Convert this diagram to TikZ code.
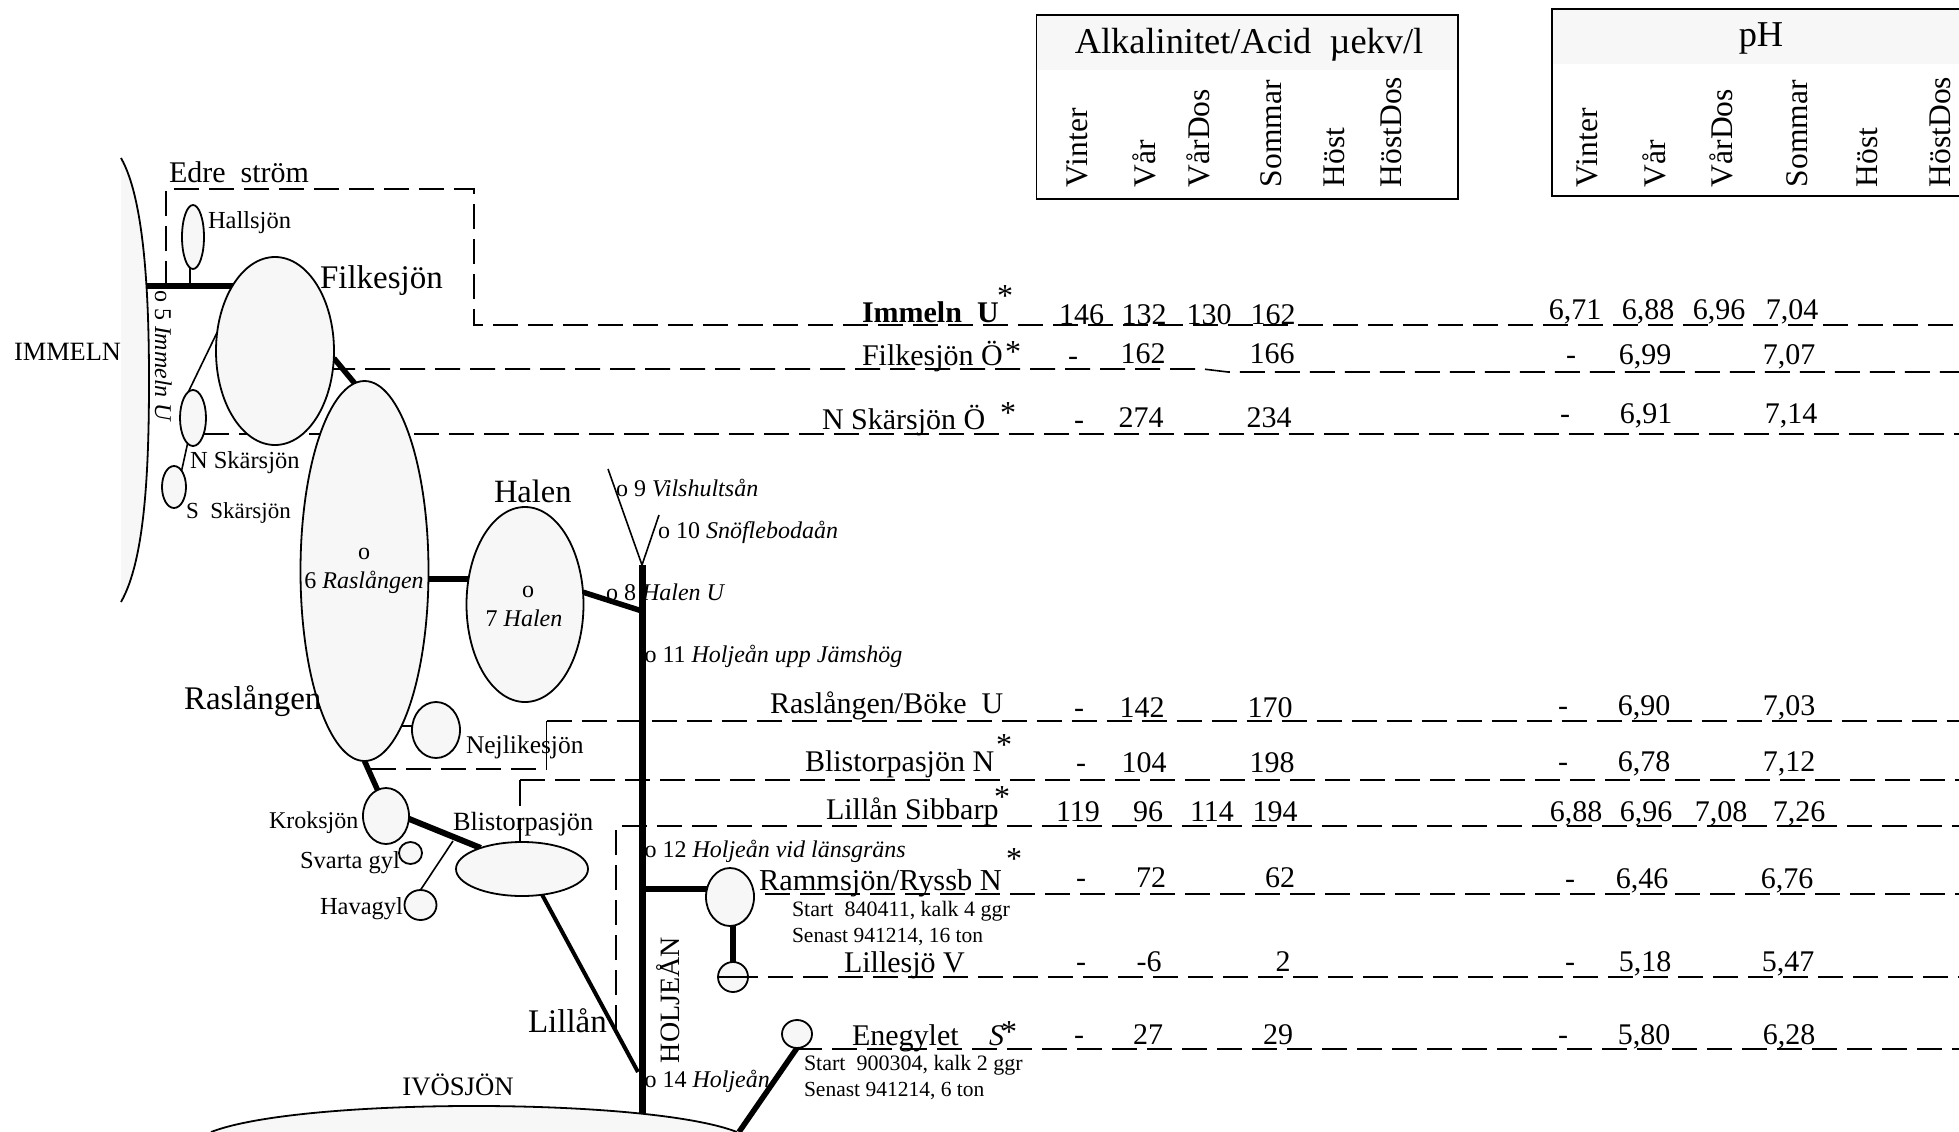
\documentclass[tikz,border=0pt]{standalone}
\usepackage{fontspec}
\setmainfont{Liberation Serif}
\usetikzlibrary{shapes.geometric}
\pgfdeclarelayer{back}
\pgfsetlayers{back,main}
\definecolor{lake}{HTML}{F7F7F7}
\newcommand{\fs}[1]{\fontsize{#1}{#1}\selectfont}
\tikzset{
  lakeshape/.style={ellipse,draw=black,fill=lake,line width=1.8pt,inner sep=0pt,outer sep=0pt},
  thickflow/.style={line width=5.5pt},
  medflow/.style={line width=4pt},
  thinflow/.style={line width=1.6pt},
  rowdash/.style={line width=1.6pt,dash pattern=on 25pt off 10pt},
  txt/.style={inner sep=0pt,outer sep=0pt,anchor=base west,font=\fs{30}},
  ctxt/.style={inner sep=0pt,outer sep=0pt,anchor=base,font=\fs{30}},
  small/.style={txt,font=\fs{24.5}},
  station/.style={txt,font=\fs{24}},
  note/.style={txt,font=\fs{22}},
  head/.style={txt,font=\fs{31.5},rotate=90},
  star/.style={ctxt,font=\fs{32}}
}
\newcommand{\lk}[5]{\node[lakeshape,minimum width=#4*2pt,minimum height=#5*2pt] (#1) at (#2,#3) {};}
\newcommand{\tv}[4]{\node[ctxt] (#1) at (#2,#3) {#4};}
\newcommand{\tl}[4]{\node[txt] (#1) at (#2,#3) {#4};}
\newcommand{\st}[3]{\node[star] (#1) at (#2,#3) {*};}
\begin{document}
\begin{tikzpicture}[x=1pt,y=-1pt]
\useasboundingbox (0,0) rectangle (1959,1132);
% lakes
\lk{fil}{275}{351}{59}{94}
\lk{hall}{193}{237}{11}{32}
\lk{nsk}{193}{418}{13}{28}
\lk{ssk}{174}{487}{12}{21}
\lk{ras}{364.5}{571}{64}{190}
\lk{hal}{525}{604.5}{58.5}{97.5}
\lk{nej}{436}{730}{24}{28}
\lk{kro}{386}{816}{23}{28}
\lk{blis}{522}{869}{66}{27}
\lk{sva}{410.5}{853}{11.5}{11}
\lk{hav}{420.5}{905}{16}{15}
\lk{ram}{730}{897}{24}{29}
\lk{lil}{733}{977}{15}{15}
\lk{ene}{797}{1034}{15}{14}
% free connector ends
\coordinate (immR) at (147,286);
\coordinate (hsB) at (190,286);
\coordinate (edreA) at (166,286);
\coordinate (edreB) at (166,189);
\coordinate (edreC) at (474,189);
\coordinate (edreD) at (474,325);
\coordinate (rowImm) at (1959,325);
\coordinate (filK) at (1203,369);
\coordinate (filL) at (1228,372);
\coordinate (rowFil) at (1959,372);
\coordinate (filS) at (330,369);
\coordinate (rowNsk) at (1959,434);
\coordinate (nskS) at (204,434);
\coordinate (rbS) at (371,769);
\coordinate (rbA) at (546.5,769);
\coordinate (rbB) at (546.5,721);
\coordinate (rowRb) at (1959,721);
\coordinate (blA) at (520,780);
\coordinate (blB) at (520,806);
\coordinate (blC) at (520,818);
\coordinate (blD) at (520,847);
\coordinate (rowBl) at (1959,780);
\coordinate (liA) at (616,1030);
\coordinate (liB) at (616,826);
\coordinate (rowLi) at (1959,826);
\coordinate (rowRam) at (1959,894);
\coordinate (rowLil) at (1959,977);
\coordinate (rowEne) at (1959,1049);
\coordinate (holTop) at (642,565);
\coordinate (holBot) at (642,1113);
\coordinate (v9) at (608,469);
\coordinate (v10) at (659,515);
\coordinate (halJ) at (642,611);
\coordinate (ramJ) at (642,889);
\coordinate (rasJ) at (428,579);
\coordinate (nejS) at (412,726);
\coordinate (havJ) at (453,841);
\coordinate (lillJ) at (638,1072);
\coordinate (eneB) at (739,1132);
\begin{pgfonlayer}{back}
  % Immeln shore
  \fill[lake] (121,158) .. controls (145,200) and (149,300) .. (149,380) .. controls (149,470) and (145,560) .. (121,602) -- cycle;
  \draw[line width=1.8pt] (121,158) .. controls (145,200) and (149,300) .. (149,380) .. controls (149,470) and (145,560) .. (121,602);
  % header boxes
  \fill[lake] (1036.5,15) rectangle (1458,70);
  \fill[lake] (1552,9) rectangle (1959,64);
  \draw[line width=1.8pt] (1036.5,15) rectangle (1458,199);
  \draw[line width=1.8pt] (1959,9) -- (1552,9) -- (1552,196) -- (1959,196);
  % dashed sampling rows
  \draw[rowdash] (edreA) -- (edreB) -- (edreC) -- (edreD) -- (rowImm);
  \draw[rowdash] (filS) -- (filK) -- (filL) -- (rowFil);
  \draw[rowdash] (nskS) -- (rowNsk);
  \draw[rowdash] (rbS) -- (rbA);
  \draw[line width=1.8pt] (rbA) -- (rbB);
  \draw[rowdash] (rbB) -- (rowRb);
  \draw[rowdash] (blA) -- (rowBl);
  \draw[thinflow] (blA) -- (blB);
  \draw[thinflow] (blC) -- (blD);
  \draw[rowdash] (liA) -- (liB) -- (rowLi);
  \draw[rowdash] (ram.center |- rowRam) -- (rowRam);
  \draw[rowdash] (lil.center |- rowLil) -- (rowLil);
  \draw[rowdash] (ene.center |- rowEne) -- (rowEne);
  % water courses
  \draw[thickflow] (immR) -- (fil.center |- immR);
  \draw[thinflow] (hsB) -- (hsB |- hall.center);
  \draw[thickflow] (fil.-7) -- (ras.93);
  \draw[thinflow] (nsk.100) -- (fil.162);
  \draw[thinflow] (nsk.-102) -- (ssk.65);
  \draw[thickflow] (rasJ) -- (hal.center |- rasJ);
  \draw[thickflow] (hal.12) -- (halJ);
  \draw[line width=7pt] (holTop) -- (holBot);
  \draw[thinflow] (holTop) -- (v9);
  \draw[thinflow] (holTop) -- (v10);
  \draw[thinflow] (ras.center |- nejS) -- (nej.center |- nejS);
  \draw[thickflow] (ras.south) -- (kro.108);
  \draw[line width=6pt] (kro.-7) -- (blis.153);
  \draw[thinflow] (hav.north) -- (havJ);
  \draw[medflow] (blis.-52) -- (lillJ);
  \draw[line width=6.5pt] (ramJ) -- (ram.center |- ramJ);
  \draw[thickflow] (lil.center) -- (lil.center |- ram.center);
  \draw[thickflow] (ene.south) -- (eneB);
\end{pgfonlayer}
\draw[line width=2pt] (lil.west) -- (lil.east);
% Ivosjon shore
\path[draw=black,fill=lake,line width=1.8pt] (211,1132) .. controls (300,1097.3) and (648,1097.3) .. (737,1132);
% table heads
\node[txt,font=\fs{36.4},anchor=base] (halk) at (1249,53) {Alkalinitet/Acid\ \ µekv/l};
\node[txt,font=\fs{36.4},anchor=base] (hph) at (1761,47) {pH};
\node[head] (a1) at (1087,187) {Vinter};
\node[head] (a2) at (1155,187) {Vår};
\node[head] (a3) at (1209,187) {VårDos};
\node[head] (a4) at (1281,187) {Sommar};
\node[head] (a5) at (1344,187) {Höst};
\node[head] (a6) at (1401,187) {HöstDos};
\node[head] (p1) at (1597,187) {Vinter};
\node[head] (p2) at (1665,187) {Vår};
\node[head] (p3) at (1732,187) {VårDos};
\node[head] (p4) at (1807,187) {Sommar};
\node[head] (p5) at (1877,187) {Höst};
\node[head] (p6) at (1950,187) {HöstDos};
% left-hand labels
\node[txt,font=\fs{30}] (edre) at (169,182) {Edre\ \ ström};
\node[small] (lhall) at (208,228) {Hallsjön};
\node[txt,font=\fs{33}] (lfil) at (320,288) {Filkesjön};
\node[txt,font=\fs{26.4}] (limm) at (14,360) {IMMELN};
\node[station,rotate=-90] (s5) at (155,290) {o 5 \textit{Immeln U}};
\node[small] (lnsk) at (190,468) {N Skärsjön};
\node[txt,font=\fs{23}] (lssk) at (186,518) {S\ \ Skärsjön};
\node[station,anchor=base] (s6o) at (364,559) {o};
\node[station,anchor=base] (s6) at (364,588) {6 \textit{Raslången}};
\node[txt,font=\fs{32.5}] (lhal) at (494,502) {Halen};
\node[station,anchor=base] (s7o) at (528,597) {o};
\node[station,anchor=base] (s7) at (524,626) {7 \textit{Halen}};
\node[station] (s9) at (616,496) {o 9 \textit{Vilshultsån}};
\node[station] (s10) at (658,538) {o 10 \textit{Snöflebodaån}};
\node[station] (s8) at (606,600) {o 8 \textit{Halen U}};
\node[station] (s11) at (644.5,662) {o 11 \textit{Holjeån upp Jämshög}};
\node[station] (s12) at (644.5,857) {o 12 \textit{Holjeån vid länsgräns}};
\node[station] (s14) at (644.5,1087) {o 14 \textit{Holjeån}};
\node[txt,font=\fs{28},rotate=90] (lhol) at (679,1063) {HOLJEÅN};
\node[txt,font=\fs{33}] (lras) at (184,709) {Raslången};
\node[txt,font=\fs{25.5}] (lnej) at (466,753) {Nejlikesjön};
\node[txt,font=\fs{24}] (lkro) at (269,828) {Kroksjön};
\node[txt,font=\fs{26.3}] (lbli) at (453,830) {Blistorpasjön};
\node[small] (lsva) at (300,868) {Svarta gyl};
\node[small] (lhav) at (320,914) {Havagyl};
\node[txt,font=\fs{33}] (llil) at (528,1032) {Lillån};
\node[txt,font=\fs{26.7},anchor=base] (livo) at (458,1095) {IVÖSJÖN};
% row names
\node[txt] (rimm) at (862,322) {\textbf{Immeln\ \ U}};
\st{simm}{1005}{306}
\tl{rfil}{862}{365}{Filkesjön Ö}
\st{sfil}{1013}{362}
\tl{rnsk}{822}{429}{N Skärsjön Ö}
\st{snsk}{1008}{423}
\tl{rrb}{770}{713}{Raslången/Böke\ \ U}
\tl{rbl}{805}{771}{Blistorpasjön N}
\st{sbl}{1004}{755}
\tl{rli}{826}{819}{Lillån Sibbarp}
\st{sli}{1002}{807}
\node[txt,font=\fs{30.4}] (rram) at (759,890) {Rammsjön/Ryssb N};
\st{sram}{1014}{869}
\node[note] (n1) at (792,916) {Start\ \ 840411, kalk 4 ggr};
\node[note,font=\fs{21.5}] (n2) at (792,942) {Senast 941214, 16 ton};
\tl{rlil}{844}{972}{Lillesjö V}
\tl{rene}{852}{1045}{Enegylet}
\node[txt] (rens) at (989,1045) {\textit{S}};
\st{sene}{1009}{1042}
\node[note] (n3) at (804,1070) {Start\ \ 900304, kalk 2 ggr};
\node[note,font=\fs{21.5}] (n4) at (804,1096) {Senast 941214, 6 ton};
% alkalinity values
\tv{a11}{1081.5}{324}{146}\tv{a12}{1144}{324}{132}\tv{a13}{1209}{324}{130}\tv{a14}{1273}{324}{162}
\tv{a21}{1073}{365}{-}\tv{a22}{1143}{363}{162}\tv{a24}{1272}{363}{166}
\tv{a31}{1079}{429}{-}\tv{a32}{1141}{427}{274}\tv{a34}{1269}{427}{234}
\tv{a41}{1079}{717}{-}\tv{a42}{1142}{717}{142}\tv{a44}{1270}{717}{170}
\tv{a51}{1081}{772}{-}\tv{a52}{1144}{772}{104}\tv{a54}{1272}{772}{198}
\tv{a61}{1078}{821}{119}\tv{a62}{1148}{821}{96}\tv{a63}{1212}{821}{114}\tv{a64}{1275}{821}{194}
\tv{a71}{1081}{887}{-}\tv{a72}{1151}{887}{72}\tv{a74}{1280}{887}{62}
\tv{a81}{1081}{971}{-}\tv{a82}{1149}{971}{-6}\tv{a84}{1283}{971}{2}
\tv{a91}{1079}{1044}{-}\tv{a92}{1148}{1044}{27}\tv{a94}{1278}{1044}{29}
% pH values
\tv{b11}{1575}{319}{6,71}\tv{b12}{1648}{319}{6,88}\tv{b13}{1719}{319}{6,96}\tv{b14}{1792}{319}{7,04}
\tv{b21}{1571}{364}{-}\tv{b22}{1645}{364}{6,99}\tv{b24}{1789}{364}{7,07}
\tv{b31}{1565}{423}{-}\tv{b32}{1646}{423}{6,91}\tv{b34}{1791}{423}{7,14}
\tv{b41}{1563}{715}{-}\tv{b42}{1644}{715}{6,90}\tv{b44}{1789}{715}{7,03}
\tv{b51}{1563}{771}{-}\tv{b52}{1644}{771}{6,78}\tv{b54}{1789}{771}{7,12}
\tv{b61}{1576}{821}{6,88}\tv{b62}{1646}{821}{6,96}\tv{b63}{1721}{821}{7,08}\tv{b64}{1799}{821}{7,26}
\tv{b71}{1570}{888}{-}\tv{b72}{1642}{888}{6,46}\tv{b74}{1787}{888}{6,76}
\tv{b81}{1570}{971}{-}\tv{b82}{1645}{971}{5,18}\tv{b84}{1788}{971}{5,47}
\tv{b91}{1563}{1044}{-}\tv{b92}{1644}{1044}{5,80}\tv{b94}{1789}{1044}{6,28}
\end{tikzpicture}
\end{document}
